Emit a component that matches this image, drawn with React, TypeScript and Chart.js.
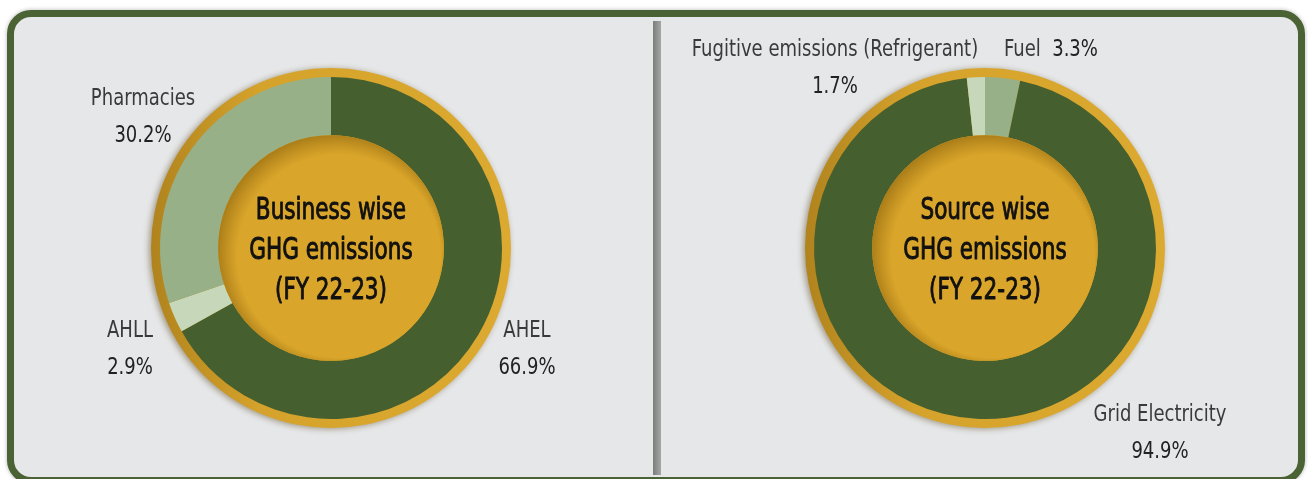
import React, { useEffect, useLayoutEffect, useRef } from "react";
import { Chart, registerables } from "chart.js";

Chart.register(...registerables);

// ---------- data ----------
const businessLabels = ["AHEL", "AHLL", "Pharmacies"];
const businessValues = [66.9, 2.9, 30.2];
const businessTitle = ["Business wise", "GHG emissions", "(FY 22-23)"];

const sourceLabels = ["Fuel", "Grid Electricity", "Fugitive emissions (Refrigerant)"];
const sourceValues = [3.3, 94.9, 1.7];
const sourceTitle = ["Source wise", "GHG emissions", "(FY 22-23)"];

// ---------- styles ----------
const DARK = "#465f2f";
const MID = "#98b088";
const PALE = "#c6d8b9";
const businessColors = [DARK, PALE, MID];
const sourceColors = [MID, DARK, PALE];

// label placement, offsets relative to the doughnut centre
const businessLabelLayout = [
  { dx: 196, dy: 80, mode: "stack" },
  { dx: -201, dy: 80, mode: "stack" },
  { dx: -188, dy: -152, mode: "stack" },
];
const sourceLabelLayout = [
  { dx: 19, dy: -201, mode: "inline" },
  { dx: 175, dy: 164, mode: "stack" },
  { dx: -150, dy: -201, mode: "stack" },
];

const NARROW = '"DejaVu Sans Condensed", "Liberation Sans Narrow", "DejaVu Sans", sans-serif';
const LABEL_FONT = `23px ${NARROW}`;
const LABEL_SX = 0.87;
const TITLE_FONT = `30px ${NARROW}`;
const TITLE_SX = 0.8;
const Y_ADJ = 3;

function drawText(
  ctx: CanvasRenderingContext2D,
  text: string,
  x: number,
  y: number,
  align: "left" | "center",
  sx: number,
  stroke = 0
) {
  const w = ctx.measureText(text).width * sx;
  const left = align === "center" ? x - w / 2 : x;
  ctx.save();
  ctx.textAlign = "left";
  ctx.translate(left, y);
  ctx.scale(sx, 1);
  ctx.fillText(text, 0, 0);
  if (stroke > 0) {
    ctx.lineWidth = stroke;
    ctx.strokeStyle = ctx.fillStyle as string;
    ctx.lineJoin = "round";
    ctx.strokeText(text, 0, 0);
  }
  ctx.restore();
  return w;
}

const ringPlugin = {
  id: "ringDecor",
  beforeDatasetsDraw(chart: any) {
    const arc: any = chart.getDatasetMeta(0).data[0];
    if (!arc) return;
    const { x, y, outerRadius } = arc;
    const ctx = chart.ctx as CanvasRenderingContext2D;
    const R = outerRadius + 9;
    ctx.save();
    ctx.shadowColor = "rgba(70,50,0,0.45)";
    ctx.shadowBlur = 6;
    ctx.shadowOffsetX = -2;
    ctx.shadowOffsetY = 1;
    const g = ctx.createLinearGradient(x - R, y, x + R, y);
    g.addColorStop(0, "#b0831d");
    g.addColorStop(0.3, "#d5a22b");
    g.addColorStop(1, "#dcaa30");
    ctx.beginPath();
    ctx.arc(x, y, R, 0, Math.PI * 2);
    ctx.fillStyle = g;
    ctx.fill();
    ctx.restore();
  },
  afterDatasetsDraw(chart: any, _args: any, opts: any) {
    const meta = chart.getDatasetMeta(0);
    const arc: any = meta.data[0];
    if (!arc) return;
    const { x, y, innerRadius } = arc;
    const ctx = chart.ctx as CanvasRenderingContext2D;

    // centre disc
    ctx.save();
    ctx.beginPath();
    ctx.arc(x, y, innerRadius, 0, Math.PI * 2);
    ctx.fillStyle = "#d9a52a";
    ctx.fill();
    ctx.clip();
    const g = ctx.createRadialGradient(x + 8, y + 8, innerRadius * 0.9, x + 3, y + 3, innerRadius + 6);
    g.addColorStop(0, "rgba(120,80,0,0)");
    g.addColorStop(1, "rgba(100,66,0,0.45)");
    ctx.fillStyle = g;
    ctx.fillRect(x - innerRadius - 2, y - innerRadius - 2, innerRadius * 2 + 4, innerRadius * 2 + 4);
    ctx.restore();

    // centre title
    ctx.save();
    ctx.font = TITLE_FONT;
    ctx.fillStyle = "#111";
    ctx.textBaseline = "middle";
    const title: string[] = opts.title || [];
    title.forEach((t, i) => {
      drawText(ctx, t, x, y + Y_ADJ + (i - (title.length - 1) / 2) * 40, "center", TITLE_SX, 0.9);
    });
    ctx.restore();

    // segment labels
    const labels: string[] = chart.data.labels;
    const values: number[] = chart.data.datasets[0].data;
    const layout: any[] = opts.layout || [];
    ctx.save();
    ctx.font = LABEL_FONT;
    ctx.textBaseline = "middle";
    labels.forEach((lab, i) => {
      const l = layout[i];
      if (!l) return;
      const val = values[i].toFixed(1) + "%";
      const px = x + l.dx;
      const py = y + l.dy + Y_ADJ;
      if (l.mode === "inline") {
        ctx.fillStyle = "#3a3a3a";
        const w = drawText(ctx, lab + "  ", px, py, "left", LABEL_SX);
        ctx.fillStyle = "#222";
        drawText(ctx, val, px + w, py, "left", LABEL_SX);
      } else {
        ctx.fillStyle = "#3a3a3a";
        drawText(ctx, lab, px, py, "center", LABEL_SX);
        ctx.fillStyle = "#222";
        drawText(ctx, val, px, py + 37, "center", LABEL_SX);
      }
    });
    ctx.restore();
  },
};

function makeConfig(labels: string[], values: number[], colors: string[], title: string[], layout: any[]): any {
  return {
    type: "doughnut",
    data: {
      labels,
      datasets: [
        {
          data: values,
          backgroundColor: colors,
          borderWidth: 0,
          hoverOffset: 0,
        },
      ],
    },
    options: {
      responsive: false,
      animation: false,
      cutout: "66%",
      rotation: 0,
      layout: { padding: { left: 160, right: 152, top: 77, bottom: 60 } },
      plugins: {
        legend: { display: false },
        tooltip: { enabled: false },
        ringDecor: { title, layout },
      },
    },
    plugins: [ringPlugin],
  };
}

function DonutCanvas(props: { cfg: any; left: number }) {
  const ref = useRef<HTMLCanvasElement | null>(null);
  useEffect(() => {
    if (!ref.current) return;
    const chart = new Chart(ref.current, props.cfg);
    return () => chart.destroy();
  }, []);
  return (
    <canvas
      ref={ref}
      width={654}
      height={479}
      style={{ position: "absolute", left: props.left, top: 0, width: 654, height: 479 }}
    />
  );
}

export default function App() {
  useLayoutEffect(() => {
    document.body.style.margin = "0";
  }, []);
  const leftCfg = makeConfig(businessLabels, businessValues, businessColors, businessTitle, businessLabelLayout);
  const rightCfg = makeConfig(sourceLabels, sourceValues, sourceColors, sourceTitle, sourceLabelLayout);
  return (
    <div style={{ position: "relative", width: 1308, height: 479, overflow: "hidden", background: "#fff" }}>
      <div
        style={{
          position: "absolute",
          left: 7,
          top: 10,
          width: 1298,
          height: 474,
          boxSizing: "border-box",
          border: "7px solid #4a6234",
          borderRadius: 24,
          background: "#e6e7e9",
          boxShadow: "0 0 4px rgba(0,0,0,0.3)",
        }}
      />
      <div
        style={{
          position: "absolute",
          left: 653,
          top: 21,
          width: 8,
          height: 454,
          background: "linear-gradient(to right, #7b7c7c, #a6a6a6)",
        }}
      />
      <DonutCanvas cfg={leftCfg} left={0} />
      <DonutCanvas cfg={rightCfg} left={654} />
    </div>
  );
}
